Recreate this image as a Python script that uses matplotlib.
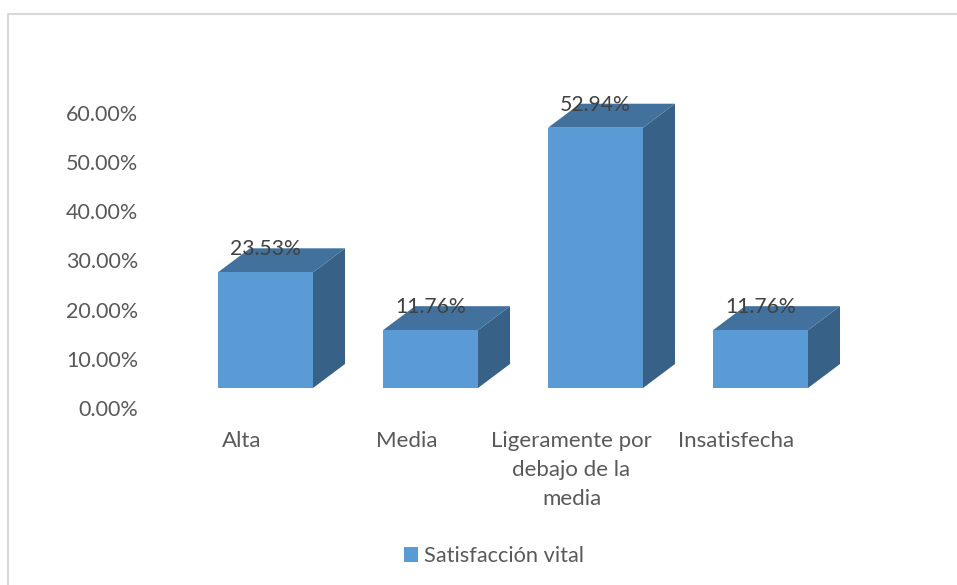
import matplotlib
matplotlib.use('Agg')
import matplotlib.pyplot as plt
from matplotlib.lines import Line2D
from matplotlib.patches import Patch, Polygon

categories = ['Alta', 'Media', 'Ligeramente por\ndebajo de la\nmedia', 'Insatisfecha']
values = [23.53, 11.76, 52.94, 11.76]
y_ticks = [0, 10, 20, 30, 40, 50, 60]
series_name = 'Satisfacción vital'

W, H = 957, 585
FRONT = '#5b9bd5'
TOP = '#41719c'
SIDE = '#376186'
TEXT = '#595959'
LABEL = '#404040'

plt.rcParams['font.family'] = ['Lato', 'DejaVu Sans']

fig = plt.figure(figsize=(W / 100, H / 100), dpi=100)
fig.patch.set_facecolor('white')

# axes box in pixels, y 0 sits at the tick label height
left, right, top, bottom = 145, 860, 113, 408
ax = fig.add_axes([left / W, 1 - bottom / H, (right - left) / W, (bottom - top) / H])
px_x = 1 / 165  # one pixel in category units
px_y = 60 / (bottom - top)  # one pixel in percent
ax.set_xlim((left - 265.5) * px_x, (right - 265.5) * px_x)
ax.set_ylim(0, 60)
ax.patch.set_alpha(0)
for s in ax.spines.values():
    s.set_visible(False)

base = 20 * px_y  # front faces stand higher than the tick zero
half = 47.5 * px_x
dx = 32 * px_x
dy = 24 * px_y

for i, v in enumerate(values):
    ax.bar(i, v, bottom=base, width=half * 2, color=FRONT, linewidth=0, clip_on=False, zorder=3)
    y1 = base + v
    ax.add_patch(Polygon([(i + half, base), (i + half + dx, base + dy), (i + half + dx, y1 + dy), (i + half, y1)],
                         closed=True, facecolor=SIDE, edgecolor='none', clip_on=False, zorder=2))
    ax.add_patch(Polygon([(i - half, y1), (i + half, y1), (i + half + dx, y1 + dy), (i - half + dx, y1 + dy)],
                         closed=True, facecolor=TOP, edgecolor='none', clip_on=False, zorder=2))
    ax.annotate(f'{v:.2f}%', (i, y1), xytext=(0, 23 * 0.72), textcoords='offset points',
                ha='center', va='center', fontsize=15.2, color=LABEL, zorder=5, annotation_clip=False)
    ax.annotate(categories[i], (i, 0), xytext=(-24 * 0.72, -23 * 0.72), textcoords='offset points',
                ha='center', va='top', fontsize=16, color=TEXT, linespacing=1.55, annotation_clip=False)

ax.set_xticks([])
ax.set_yticks(y_ticks)
ax.set_yticklabels([f'{t:.2f}%' for t in y_ticks])
ax.tick_params(axis='y', length=0, pad=5, labelsize=15.5, labelcolor=TEXT)

# chart frame, only left and top edges fall inside the crop
fig.add_artist(Line2D([8 / W, 8 / W, 1], [0, 1 - 14 / H, 1 - 14 / H], color='#d9d9d9', linewidth=1.5))

leg = fig.legend(handles=[Patch(facecolor=FRONT, label=series_name)], loc='center',
                 bbox_to_anchor=(494 / W, 1 - 556 / H), frameon=False, fontsize=15.7,
                 handlelength=0.64, handleheight=0.64, handletextpad=0.28, labelcolor=TEXT)

fig.savefig('out.png', dpi=100)
